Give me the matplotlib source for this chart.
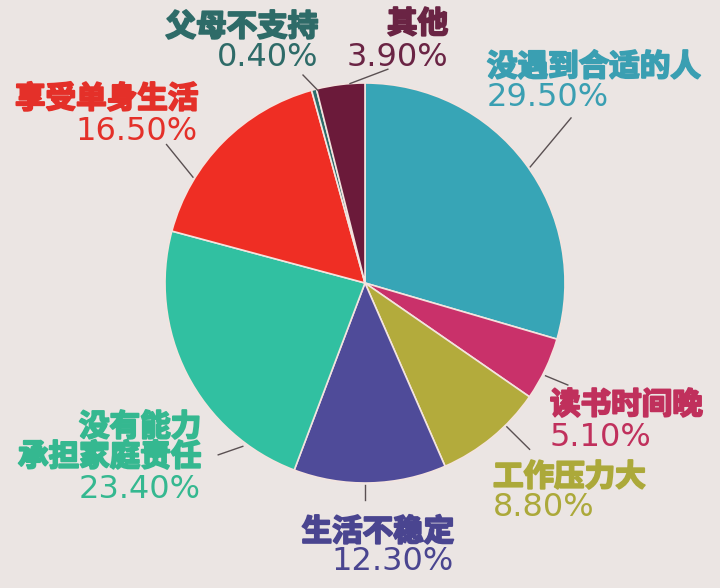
import matplotlib
matplotlib.use("Agg")
import matplotlib.pyplot as plt
import matplotlib.patheffects as pe
import numpy as np

# ---- data ----
categories = ["没遇到合适的人", "读书时间晚", "工作压力大", "生活不稳定",
              "没有能力\n承担家庭责任", "享受单身生活", "父母不支持", "其他"]
values = [29.5, 5.1, 8.8, 12.3, 23.4, 16.5, 0.4, 3.9]
value_labels = ["29.50%", "5.10%", "8.80%", "12.30%", "23.40%", "16.50%", "0.40%", "3.90%"]

# ---- style ----
wedge_colors = ["#37a5b6", "#c9316a", "#b3ab3c", "#4f4b99", "#31c0a1", "#ef2e24", "#2b6c6a", "#6b1a3a"]
text_colors = ["#3a9fb2", "#c0305c", "#aca93a", "#4a4590", "#35b890", "#e43029", "#2e6b68", "#6a2444"]
BG = "#ebe5e3"
W, H = 720, 588
CX, CY, R = 365, H - 283, 200

# label layout: (x, y_name, y_value, ha) in image pixels (y from top)
label_pos = [
    (487, 67, 97, "left"),
    (550, 405, 437, "left"),
    (493, 477, 507, "left"),
    (454, 532, 562, "right"),
    (201, (427, 457), 489, "right"),
    (198, 99, 132, "right"),
    (318, 27, 57, "right"),
    (448, 24, 57, "right"),
]
# leader lines: (angle_in, r_in, angle_out, r_out) relative to the pie
leaders = [
    (35.1, 1.01, 38.7, 1.32),
    (-27.2, 1.015, -26.7, 1.135),
    (-45.4, 1.01, -45.3, 1.17),
    (-90.0, 1.01, -90.0, 1.085),
    (-126.8, 1.02, -130.5, 1.13),
    (148.4, 1.01, 145.1, 1.21),
    (103.7, 0.99, 106.6, 1.085),
    (94.3, 1.0, 83.9, 1.075),
]

fig = plt.figure(figsize=(W / 100, H / 100), dpi=100)
fig.patch.set_facecolor(BG)
ax = fig.add_axes([0, 0, 1, 1])
ax.set_facecolor(BG)

ax.pie(values, colors=wedge_colors, startangle=90, counterclock=False,
       center=(CX, CY), radius=R, frame=True,
       wedgeprops=dict(edgecolor="#f3e4df", linewidth=1.2))
ax.set_xlim(0, W)
ax.set_ylim(0, H)
ax.set_aspect("equal")
ax.axis("off")

for (a1, r1, a2, r2) in leaders:
    x1 = CX + R * r1 * np.cos(np.radians(a1))
    y1 = CY + R * r1 * np.sin(np.radians(a1))
    x2 = CX + R * r2 * np.cos(np.radians(a2))
    y2 = CY + R * r2 * np.sin(np.radians(a2))
    ax.plot([x1, x2], [y1, y2], color="#5a5052", lw=1.0)

cjk = ["Noto Sans CJK SC", "DejaVu Sans"]
for name, val, col, (x, yn, yv, ha) in zip(categories, value_labels, text_colors, label_pos):
    lines = name.split("\n")
    ys = yn if isinstance(yn, tuple) else (yn,)
    for line, y in zip(lines, ys):
        ax.text(x, H - y, line, ha=ha, va="center", color=col,
                fontsize=22, fontweight="heavy", family=cjk,
                path_effects=[pe.withStroke(linewidth=1.4, foreground=col)])
    ax.text(x, H - yv, val, ha=ha, va="center", color=col,
            fontsize=23, family=["DejaVu Sans"])

fig.savefig("out.png", dpi=100, facecolor=BG)
